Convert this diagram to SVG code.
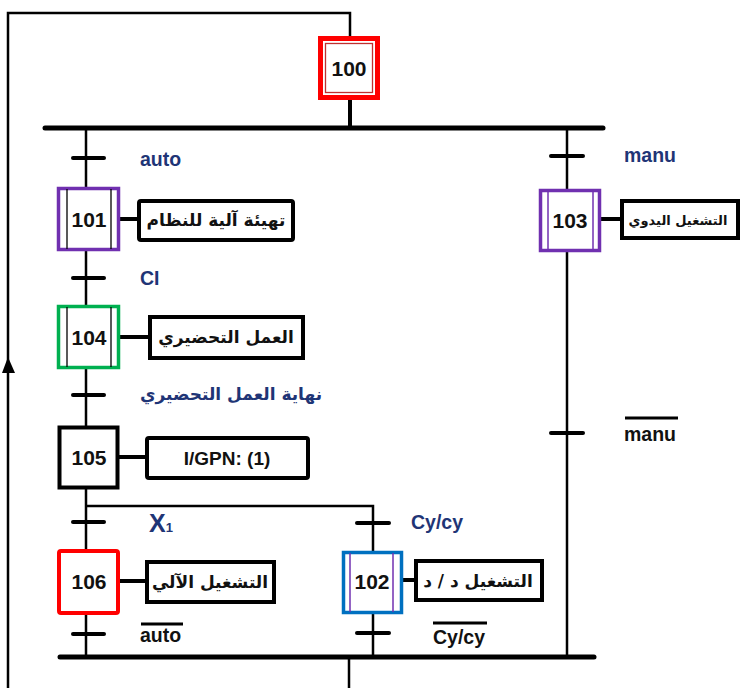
<svg xmlns="http://www.w3.org/2000/svg" width="741" height="688" viewBox="0 0 741 688">
<style>
.ln{stroke:#000;fill:none;stroke-width:2.5}
.bus{stroke:#000;stroke-width:5;stroke-linecap:round}
.tr{stroke:#000;stroke-width:4;stroke-linecap:round}
.act{fill:#fff;stroke:#000;stroke-width:4}
.num{font-family:"Liberation Sans",Arial,sans-serif;font-weight:bold;font-size:21px;fill:#111;text-anchor:middle}
.ar{font-family:"DejaVu Sans",sans-serif;font-weight:bold;font-size:16px;fill:#111;text-anchor:middle}
.lbl{font-family:"Liberation Sans",Arial,sans-serif;font-weight:bold;font-size:19.5px;fill:#1f3576}
.lblk{font-family:"Liberation Sans",Arial,sans-serif;font-weight:bold;font-size:19.5px;fill:#111}
.arl{font-family:"DejaVu Sans",sans-serif;font-weight:bold;font-size:17px;fill:#1f3576}
.big{font-size:25px}
.sub{font-size:13px}
</style>
<rect width="741" height="688" fill="#fff"/>
<g id="connectors">
<polyline class="ln" points="350,36 350,13 8,13 8,688"/>
<polygon points="8,357 2,373 15,373" fill="#000"/>
<line x1="350" y1="100" x2="350" y2="128" stroke="#000" stroke-width="4"/>
<line class="bus" x1="45" y1="128" x2="603" y2="128"/>
<line class="ln" x1="86" y1="128" x2="86" y2="657"/>
<line class="ln" x1="567" y1="128" x2="567" y2="657"/>
<polyline class="ln" points="86,506 373,506 373,657" stroke-width="2"/>
<line class="bus" x1="60" y1="657" x2="594" y2="657"/>
<line class="ln" x1="349" y1="657" x2="349" y2="688"/>
<line class="tr" x1="73" y1="158" x2="104" y2="158"/>
<line class="tr" x1="73" y1="278" x2="104" y2="278"/>
<line class="tr" x1="73" y1="395" x2="104" y2="395"/>
<line class="tr" x1="73" y1="522" x2="104" y2="522"/>
<line class="tr" x1="73" y1="634" x2="104" y2="634"/>
<line class="tr" x1="357" y1="523" x2="389" y2="523"/>
<line class="tr" x1="357" y1="633" x2="389" y2="633"/>
<line class="tr" x1="551" y1="156" x2="583" y2="156"/>
<line class="tr" x1="551" y1="433" x2="583" y2="433"/>
<line x1="120" y1="219" x2="138" y2="219" stroke="#000" stroke-width="4"/>
<line x1="120" y1="337" x2="149" y2="337" stroke="#000" stroke-width="4"/>
<line x1="119" y1="457" x2="146" y2="457" stroke="#000" stroke-width="4"/>
<line x1="120" y1="581" x2="147" y2="581" stroke="#000" stroke-width="4"/>
<line x1="403" y1="580" x2="416" y2="580" stroke="#000" stroke-width="4"/>
<line x1="600" y1="219" x2="621" y2="219" stroke="#000" stroke-width="4"/>
</g>
<g id="labels">
<text class="lbl" x="140" y="166">auto</text>
<text class="lbl" x="624" y="162">manu</text>
<text class="lbl" x="140" y="285">CI</text>
<text class="arl" x="231" y="400" text-anchor="middle">نهاية العمل التحضيري</text>
<text class="lbl big" x="149" y="532">X<tspan class="sub">1</tspan></text>
<text class="lbl" x="411" y="529">Cy/cy</text>
<text class="lblk" x="140" y="642">auto</text>
<line x1="141" y1="624" x2="183" y2="624" stroke="#000" stroke-width="3"/>
<text class="lblk" x="433" y="644">Cy/cy</text>
<line x1="433" y1="623" x2="487" y2="623" stroke="#000" stroke-width="3"/>
<text class="lblk" x="624" y="441">manu</text>
<line x1="625" y1="418" x2="678" y2="418" stroke="#000" stroke-width="3"/>
</g>
<g id="step100">
<rect x="320.5" y="38.5" width="57" height="59" fill="#fff" stroke="#ff0000" stroke-width="5"/>
<rect x="325.5" y="43.5" width="47" height="49" fill="none" stroke="#c03030" stroke-width="1.3"/>
<text class="num" x="349" y="76">100</text>
</g>
<g id="step101">
<rect x="58.5" y="188.5" width="60" height="61" fill="#fff" stroke="#7030b0" stroke-width="3.5"/>
<line x1="67" y1="189" x2="67" y2="249" stroke="#000" stroke-width="1.3"/>
<line x1="111" y1="189" x2="111" y2="249" stroke="#000" stroke-width="1.3"/>
<text class="num" x="89" y="227">101</text>
</g>
<g id="action101">
<rect class="act" x="139" y="201" width="154" height="39" rx="2"/>
<text class="ar" x="216" y="226" style="font-size:17px">تهيئة آلية للنظام</text>
</g>
<g id="step103">
<rect x="540.5" y="190.5" width="59" height="60" fill="#fff" stroke="#7030b0" stroke-width="3.5"/>
<line x1="548" y1="191" x2="548" y2="250" stroke="#7030b0" stroke-width="1.5"/>
<line x1="593" y1="191" x2="593" y2="250" stroke="#7030b0" stroke-width="1.5"/>
<text class="num" x="570" y="228">103</text>
</g>
<g id="action103">
<rect class="act" x="622" y="201" width="116" height="37"/>
<text class="ar" x="678" y="225" style="font-size:13px">التشغيل اليدوي</text>
</g>
<g id="step104">
<rect x="58.5" y="306.5" width="60" height="61" fill="#fff" stroke="#00b050" stroke-width="3.5"/>
<line x1="67" y1="307" x2="67" y2="367" stroke="#000" stroke-width="1.3"/>
<line x1="111" y1="307" x2="111" y2="367" stroke="#000" stroke-width="1.3"/>
<text class="num" x="89" y="345">104</text>
</g>
<g id="action104">
<rect class="act" x="150" y="317" width="153" height="41"/>
<text class="ar" x="226" y="343" style="font-size:17px">العمل التحضيري</text>
</g>
<g id="step105">
<rect x="59.5" y="427.5" width="58" height="60" fill="#fff" stroke="#000" stroke-width="4"/>
<text class="num" x="89" y="465">105</text>
</g>
<g id="action105">
<rect class="act" x="147" y="438" width="161" height="40" rx="2"/>
<text class="num" x="227" y="465" style="font-size:19px">I/GPN: (1)</text>
</g>
<g id="step106">
<rect x="59" y="551" width="59" height="62" fill="#fff" stroke="#ff0000" stroke-width="4" rx="2"/>
<text class="num" x="89" y="589">106</text>
</g>
<g id="action106">
<rect class="act" x="147" y="562" width="127" height="40"/>
<text class="ar" x="210" y="588" style="font-size:17px">التشغيل الآلي</text>
</g>
<g id="step102">
<rect x="343.5" y="552.5" width="58" height="60" fill="#fff" stroke="#0070c0" stroke-width="3.5"/>
<line x1="350" y1="553" x2="350" y2="612" stroke="#7030b0" stroke-width="1.5"/>
<line x1="393" y1="553" x2="393" y2="612" stroke="#7030b0" stroke-width="1.5"/>
<text class="num" x="372" y="589">102</text>
</g>
<g id="action102">
<rect class="act" x="416" y="561" width="126" height="39"/>
<text class="ar" x="478" y="587" style="font-size:17px">التشغيل د / د</text>
</g>
</svg>
